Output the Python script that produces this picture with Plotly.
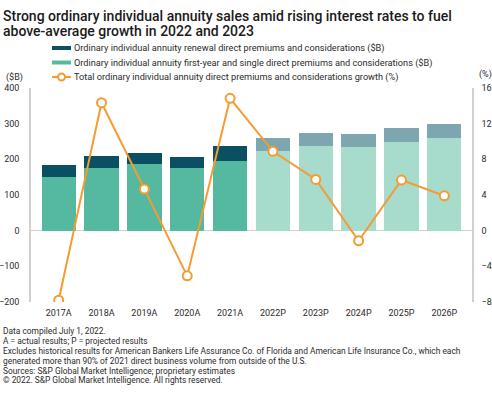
import plotly.graph_objects as go

years = ["2017A", "2018A", "2019A", "2020A", "2021A", "2022P", "2023P", "2024P", "2025P", "2026P"]
first_year = [150, 177, 188, 177, 196, 223, 238, 234, 249, 260]
renewal = [33, 31, 29, 30, 42, 37, 36, 37, 38, 38]
growth = [-7.8, 14.35, 4.66, -5.07, 14.84, 8.9, 5.75, -1.13, 5.68, 3.91]
left_ticks = [-200, -100, 0, 100, 200, 300, 400]
right_ticks = [-8, -4, 0, 4, 8, 12, 16]
legend_labels = [
    "Ordinary individual annuity renewal direct premiums and considerations ($B)",
    "Ordinary individual annuity first-year and single direct premiums and considerations ($B)",
    "Total ordinary individual annuity direct premiums and considerations growth (%)",
]

FY_ACT, FY_PROJ = "#54b99e", "#a7dccd"
RN_ACT, RN_PROJ = "#0b4f63", "#7ea6b0"
ORANGE = "#f49c32"
FONT = "Roboto"
TXT = "#2b2b2b"
GRID = "#d0d0d0"

# plot area in pixels
L, R, T, B = 31, 472, 88, 302
W, H = R - L, B - T

def xp(px):
    return (px - L) / W

def yp(px):
    return (B - px) / H

is_proj = [y.endswith("P") for y in years]
fy_colors = [FY_PROJ if p else FY_ACT for p in is_proj]
rn_colors = [RN_PROJ if p else RN_ACT for p in is_proj]

fig = go.Figure()
fig.add_trace(go.Bar(x=years, y=first_year, marker=dict(color=fy_colors, line=dict(width=0)),
                     name=legend_labels[1], showlegend=False, yaxis="y"))
fig.add_trace(go.Bar(x=years, y=renewal, marker=dict(color=rn_colors, line=dict(width=0)),
                     name=legend_labels[0], showlegend=False, yaxis="y"))
fig.add_trace(go.Scatter(x=years, y=growth, mode="lines+markers", yaxis="y2",
                         line=dict(color=ORANGE, width=2),
                         marker=dict(size=9, color="white", line=dict(color=ORANGE, width=2)),
                         name=legend_labels[2], showlegend=False))

fig.update_layout(
    template="none",
    width=492, height=393,
    margin=dict(l=L, r=492 - R, t=T, b=393 - B, pad=0, autoexpand=False),
    paper_bgcolor="white", plot_bgcolor="white",
    barmode="stack", bargap=0.2,
    font=dict(family=FONT, size=9, color=TXT),
    xaxis=dict(showgrid=False, showline=False, zeroline=False, ticks="", automargin=False,
               tickfont=dict(size=9, color=TXT), ticklabelstandoff=4),
    yaxis=dict(range=[-200, 400], tickvals=left_ticks, showgrid=False, zeroline=True,
               zerolinecolor=GRID, zerolinewidth=1, showline=True, linecolor=GRID,
               linewidth=1.5, ticks="", automargin=False, ticklabelstandoff=8,
               tickfont=dict(size=9, color=TXT)),
    yaxis2=dict(range=[-8, 16], tickvals=right_ticks, overlaying="y", side="right",
                showgrid=False, zeroline=False, showline=True, linecolor=GRID,
                linewidth=1.5, ticks="", automargin=False, ticklabelstandoff=6,
                tickfont=dict(size=9, color=TXT)),
    showlegend=False,
)

# custom legend
leg_y = [48, 62.5, 77]
shapes = []
for i, c in enumerate([RN_ACT, FY_ACT]):
    shapes.append(dict(type="rect", xref="paper", yref="paper", x0=xp(52), x1=xp(71),
                       y0=yp(leg_y[i] + 2), y1=yp(leg_y[i] - 2), fillcolor=c, line=dict(width=0)))
shapes.append(dict(type="line", xref="paper", yref="paper", x0=xp(52), x1=xp(71),
                   y0=yp(leg_y[2]), y1=yp(leg_y[2]), line=dict(color=ORANGE, width=2)))
shapes.append(dict(type="circle", xref="paper", yref="paper", x0=xp(58), x1=xp(65),
                   y0=yp(leg_y[2] + 3.5), y1=yp(leg_y[2] - 3.5), fillcolor="white",
                   line=dict(color=ORANGE, width=2)))
fig.update_layout(shapes=shapes)
for lbl, y in zip(legend_labels, leg_y):
    fig.add_annotation(text=lbl, xref="paper", yref="paper", x=xp(72), y=yp(y),
                       xanchor="left", yanchor="middle", showarrow=False,
                       font=dict(size=9.2, color=TXT, family=FONT))

annots = [
    dict(text="Strong ordinary individual annuity sales amid rising interest rates to fuel", y=16, size=14, color="#1a1a1a"),
    dict(text="above-average growth in 2022 and 2023", y=31, size=14, color="#1a1a1a"),
    dict(text="Data compiled July 1, 2022.", y=331, size=8.4, color=TXT),
    dict(text="A = actual results; P = projected results", y=341, size=8.4, color=TXT),
    dict(text="Excludes historical results for American Bankers Life Assurance Co. of Florida and American Life Insurance Co., which each", y=351, size=8.4, color=TXT),
    dict(text="generated more than 90% of 2021 direct business volume from outside of the U.S.", y=361, size=8.4, color=TXT),
    dict(text="Sources: S&P Global Market Intelligence; proprietary estimates", y=371, size=8.4, color=TXT),
    dict(text="\u00a9 2022. S&P Global Market Intelligence. All rights reserved.", y=380, size=8.4, color=TXT),
]
for a in annots:
    fig.add_annotation(text=a["text"], xref="paper", yref="paper", x=xp(1), y=yp(a["y"]),
                       xanchor="left", yanchor="middle", showarrow=False,
                       font=dict(size=a["size"], color=a["color"], family=FONT,
                                 weight=500 if a["size"] > 10 else 400))
fig.add_annotation(text="($B)", xref="paper", yref="paper", x=xp(4), y=yp(77),
                   xanchor="left", yanchor="middle", showarrow=False, font=dict(size=9, color=TXT))
fig.add_annotation(text="(%)", xref="paper", yref="paper", x=xp(477), y=yp(75),
                   xanchor="left", yanchor="middle", showarrow=False, font=dict(size=9, color=TXT))

fig.write_html("out.html", config={"displayModeBar": False},
               post_script="document.body.style.margin='0';document.body.style.overflow='hidden';")
